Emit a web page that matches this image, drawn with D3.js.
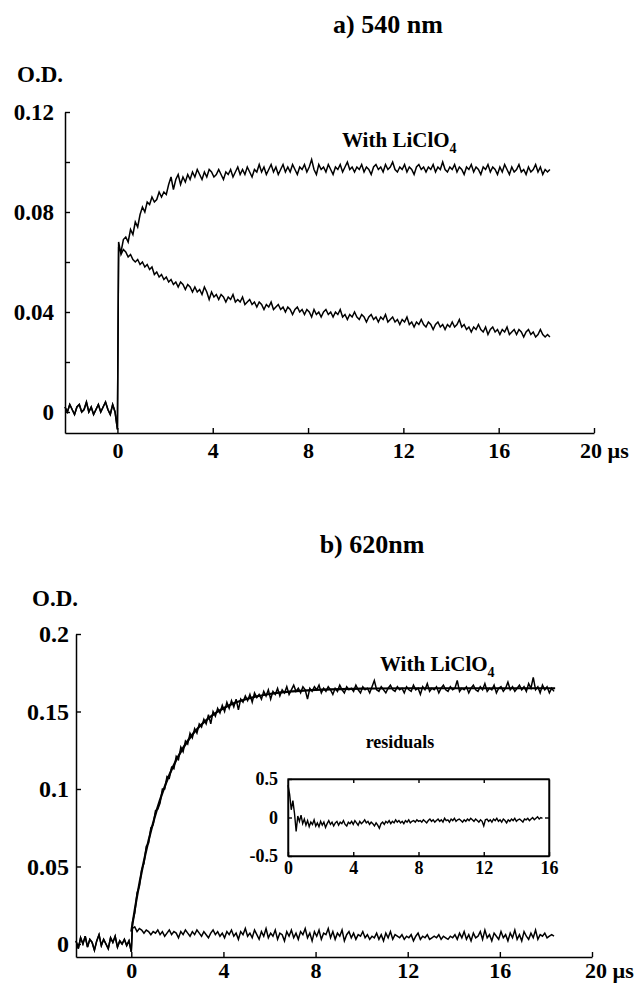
<!DOCTYPE html>
<html><head><meta charset="utf-8">
<script src="https://cdn.jsdelivr.net/npm/d3@7"></script>
<style>
body{margin:0;background:#fff}
text{font-family:"Liberation Serif","Times New Roman",serif;font-weight:bold;fill:#000}
</style>
</head><body>
<svg id="c" width="638" height="985"></svg>
<script>
// ---- sampling (µs) ----
const DT = 0.1;
// ---- panel a) 540 nm, values in milli-O.D. ----
const topBaseStart = -2.2;
const topBaseline = [2,0,3,1,-1,2,3,0,1,4,0,2,-1,1,3,0,2,4,1,-1,3,0,-7];
const topTraceStart = 0.05;
const topWithLi = [66,64,69,70,68,73,71,76,74,79,82,80,84,83,86,84,85,88,86,88,
87,91,94,89,93,95,91,94,92,95,93,96,94,97,95,93,96,94,97,96,
94,95,97,95,93,96,95,97,94,96,98,95,97,95,98,96,94,97,96,99,
96,98,95,97,99,96,98,95,97,99,96,98,96,99,97,95,98,97,99,96,
98,101,97,95,99,97,98,96,99,97,95,98,97,99,96,98,100,97,98,96,
98,97,99,96,98,97,95,98,99,97,98,96,99,97,98,100,97,96,98,97,
99,96,98,97,95,98,99,97,98,96,98,97,99,96,98,97,100,97,96,98,
97,99,96,98,97,95,98,97,99,96,98,97,95,98,97,99,96,98,97,95,
98,96,99,97,95,98,96,97,99,96,97,95,98,96,97,99,96,98,95,97,96,97];
const topWithout = [68,63,65,64,62,63,61,60,61,59,60,58,59,57,58,55,56,54,55,53,
54,52,53,51,52,50,52,51,49,51,50,48,50,48,49,47,50,48,45,48,
46,47,45,47,46,44,46,45,47,44,45,44,46,43,44,45,43,44,42,44,
43,41,43,42,44,41,42,43,41,42,40,42,41,39,41,42,40,41,39,41,
40,38,41,39,40,38,40,41,39,40,38,40,39,41,38,39,37,39,38,40,
38,37,39,38,36,38,39,37,38,36,38,37,39,36,37,38,36,37,35,37,
36,38,35,36,34,36,35,37,35,34,36,35,33,35,36,34,35,33,35,34,
36,34,35,37,34,35,33,34,32,34,33,35,33,32,34,31,33,34,32,33,
31,33,32,34,31,32,33,31,33,32,30,32,33,31,32,30,31,33,31,30,31,30];
const topYTicks = [0, 0.04, 0.08, 0.12];
const topYMinor = [0.02, 0.06, 0.10];
// ---- panel b) 620 nm, values in milli-O.D. ----
const botBaseStart = -2.4;
const botBaseline = [2,-3,4,0,5,-2,3,1,-4,2,6,-1,3,0,-3,4,1,5,-2,2,0,3,-1,2,-5];
const botTraceStart = 0.05;
const botWithLi = [14,20,33,37,48,52,63,65,75,77,86,87,91,100,100,108,107,114,113,121,
119,127,124,131,129,136,133,139,136,142,140,145,142,148,142,150,147,152,149,154,
150,156,152,157,153,158,151,158,156,160,157,161,156,162,159,161,158,163,160,164,
158,163,161,165,160,164,162,166,161,164,167,163,165,162,166,164,158,165,163,166,
164,167,162,165,163,166,164,161,165,163,167,164,162,166,164,165,163,167,164,162,
166,164,165,162,166,170,164,163,166,164,162,165,167,164,163,166,164,165,162,166,
164,163,167,164,165,161,166,164,168,163,165,164,166,162,165,167,164,163,166,164,
165,170,163,165,164,166,162,165,167,164,163,166,164,168,163,165,164,167,162,165,
166,163,165,169,164,166,163,165,167,164,166,163,168,165,172,164,166,162,167,164,166,162,165,163];
const botWithout = [10,11,8,10,9,7,9,8,6,8,7,9,6,8,5,7,9,6,8,7,
4,8,6,9,7,5,8,6,9,7,5,8,6,4,7,9,6,8,5,7,
4,8,6,9,5,7,3,8,6,10,5,7,4,9,6,3,8,5,10,4,
7,5,9,3,7,6,2,8,5,9,4,7,3,8,6,10,4,7,2,8,
5,9,3,7,6,10,4,8,3,7,5,9,2,6,8,4,7,3,6,5,
8,4,6,3,5,4,7,3,6,2,7,4,8,3,6,5,4,6,3,5,
4,6,2,5,7,3,5,4,6,3,4,5,4,6,3,5,4,3,5,4,
6,3,7,4,8,3,6,2,7,4,5,8,3,9,4,6,2,7,5,3,
8,4,6,2,7,4,9,3,6,2,8,5,3,7,4,9,3,6,5,7,4,5,6,5];
const botFitT = [0,0.25,0.5,0.75,1,1.25,1.5,1.75,2,2.5,3,3.5,4,4.5,5,6,7,8,10,12,14,16,18.4];
const botFit = [8,30.7,50.1,66.7,81,93.1,103.5,112.4,120,132.1,140.9,147.4,152.1,155.6,158.1,161.3,163,164,164.7,165,165,165,165];
const botYTicks = [0, 0.05, 0.1, 0.15, 0.2];
const xTicks = [0, 4, 8, 12, 16, 20];
// ---- inset residuals ----
const residStart = 0;
const residuals = [0.42,0.30,0.10,0.22,0.05,-0.18,0.02,-0.05,0.03,-0.08,
-0.02,-0.10,-0.04,-0.12,-0.06,-0.09,-0.03,-0.11,-0.07,-0.12,
-0.05,-0.10,-0.06,-0.13,-0.08,-0.04,-0.09,-0.06,-0.11,-0.07,
-0.05,-0.10,-0.06,-0.08,-0.04,-0.09,-0.11,-0.06,-0.08,-0.05,
-0.09,-0.04,-0.07,-0.10,-0.05,-0.08,-0.06,-0.03,-0.07,-0.05,
-0.09,-0.06,-0.08,-0.11,-0.07,-0.10,-0.14,-0.08,-0.06,-0.09,
-0.05,-0.07,-0.04,-0.08,-0.05,-0.07,-0.03,-0.06,-0.04,-0.07,
-0.05,-0.08,-0.04,-0.06,-0.03,-0.07,-0.05,-0.04,-0.06,-0.03,
-0.05,-0.04,-0.06,-0.03,-0.05,-0.07,-0.04,-0.02,-0.05,-0.03,
-0.06,-0.04,-0.02,-0.05,-0.03,-0.06,-0.01,-0.04,-0.03,-0.06,
-0.02,-0.04,-0.01,-0.05,-0.03,-0.02,-0.04,-0.06,-0.03,-0.05,
-0.02,-0.04,-0.01,-0.03,-0.05,-0.02,-0.04,-0.06,-0.03,-0.05,
-0.11,-0.03,-0.02,-0.05,-0.03,-0.06,-0.02,-0.04,-0.01,-0.05,
-0.03,-0.06,-0.02,-0.04,-0.07,-0.03,-0.05,-0.02,-0.04,-0.01,
-0.05,-0.03,-0.02,-0.04,-0.06,-0.02,-0.03,-0.01,-0.04,-0.02,
0.00,-0.03,-0.01,0.01,-0.02,0.00,-0.01];
const insetXTicks = [0, 4, 8, 12, 16];
const insetYTicks = [-0.5, 0, 0.5];

// ---- helpers ----
const svg = d3.select("#c");
const toPts = (start, arr) => arr.map((v, i) => ({t: start + i * DT, v: v / 1000}));
function styleAxis(g, size){
  g.attr("font-family", null).attr("font-size", null);
  g.selectAll("text").style("font-size", size + "px");
  g.selectAll("path.domain").attr("stroke-width", 1.5);
  g.selectAll(".tick line").attr("stroke-width", 1.4);
}

// ================= Panel a =================
const xa = d3.scaleLinear().domain([-2.2, 20]).range([65, 594]);
const ya = d3.scaleLinear().domain([-0.0084, 0.12]).range([433, 112]);
const lineA = d3.line().x(d => xa(d.t)).y(d => ya(d.v));
const baseA = toPts(topBaseStart, topBaseline);
svg.append("path").datum(baseA.concat(toPts(topTraceStart, topWithLi)))
  .attr("d", lineA).attr("fill", "none").attr("stroke", "#000").attr("stroke-width", 1.5);
svg.append("path").datum(baseA.concat(toPts(topTraceStart, topWithout)))
  .attr("d", lineA).attr("fill", "none").attr("stroke", "#000").attr("stroke-width", 1.5);

const gya = svg.append("g").attr("transform", "translate(65,0)")
  .call(d3.axisLeft(ya).tickValues(topYTicks).tickSize(-5).tickSizeOuter(0).tickPadding(11)
    .tickFormat(d => d === 0 ? "0" : d.toFixed(2)));
styleAxis(gya, 23);
svg.append("g").attr("transform", "translate(65,0)")
  .call(d3.axisLeft(ya).tickValues(topYMinor).tickSize(-5).tickFormat(""))
  .call(g => g.select(".domain").remove()).call(g => styleAxis(g, 23));
const gxa = svg.append("g").attr("transform", "translate(0,433)")
  .call(d3.axisBottom(xa).tickValues(xTicks).tickSize(-5).tickSizeOuter(0).tickPadding(9)
    .tickFormat(d => d === 20 ? "" : d));
styleAxis(gxa, 22);
svg.append("text").attr("x", 580).attr("y", 458).style("font-size", "22px").text("20 µs");

svg.append("text").attr("x", 388).attr("y", 33).attr("text-anchor", "middle").style("font-size", "26px").text("a) 540 nm");
svg.append("text").attr("x", 17).attr("y", 82).style("font-size", "23px").text("O.D.");
const la = svg.append("text").attr("x", 342).attr("y", 147).style("font-size", "21px").text("With LiClO");
la.append("tspan").attr("dy", 6).style("font-size", "14px").text("4");

// ================= Panel b =================
const xb = d3.scaleLinear().domain([-2.4, 20]).range([76, 592]);
const yb = d3.scaleLinear().domain([-0.0084, 0.2]).range([957, 634]);
const lineB = d3.line().x(d => xb(d.t)).y(d => yb(d.v));
const baseB = toPts(botBaseStart, botBaseline);
svg.append("path").datum(baseB.concat(toPts(botTraceStart, botWithout)))
  .attr("d", lineB).attr("fill", "none").attr("stroke", "#000").attr("stroke-width", 1.5);
svg.append("path").datum(baseB.concat(toPts(botTraceStart, botWithLi)))
  .attr("d", lineB).attr("fill", "none").attr("stroke", "#000").attr("stroke-width", 1.5);
svg.append("path").datum(botFitT.map((t, i) => ({t, v: botFit[i] / 1000})))
  .attr("d", lineB.curve(d3.curveMonotoneX)).attr("fill", "none").attr("stroke", "#000").attr("stroke-width", 2.2);

const gyb = svg.append("g").attr("transform", "translate(76,0)")
  .call(d3.axisLeft(yb).tickValues(botYTicks).tickSize(-5).tickSizeOuter(0).tickPadding(7)
    .tickFormat(d => String(d)));
styleAxis(gyb, 24);
const gxb = svg.append("g").attr("transform", "translate(0,957)")
  .call(d3.axisBottom(xb).tickValues(xTicks).tickSize(-5).tickSizeOuter(0).tickPadding(5)
    .tickFormat(d => d === 20 ? "" : d));
styleAxis(gxb, 22);
svg.append("text").attr("x", 585).attr("y", 978).style("font-size", "22px").text("20 µs");

svg.append("text").attr("x", 372).attr("y", 553).attr("text-anchor", "middle").style("font-size", "26px").text("b) 620nm");
svg.append("text").attr("x", 32).attr("y", 606).style("font-size", "23px").text("O.D.");
const lb = svg.append("text").attr("x", 380).attr("y", 671).style("font-size", "21px").text("With LiClO");
lb.append("tspan").attr("dy", 6).style("font-size", "14px").text("4");

// ================= Inset =================
const xi = d3.scaleLinear().domain([0, 16]).range([288, 549]);
const yi = d3.scaleLinear().domain([-0.5, 0.5]).range([856, 779]);
svg.append("text").attr("x", 400).attr("y", 748).attr("text-anchor", "middle").style("font-size", "18px").text("residuals");
svg.append("rect").attr("x", xi(0)).attr("y", yi(0.5)).attr("width", xi(16) - xi(0)).attr("height", yi(-0.5) - yi(0.5))
  .attr("fill", "none").attr("stroke", "#000").attr("stroke-width", 1.3);
const gyi = svg.append("g").attr("transform", `translate(${xi(0)},0)`)
  .call(d3.axisLeft(yi).tickValues(insetYTicks).tickSize(-4).tickSizeOuter(0).tickPadding(10)
    .tickFormat(d => d === 0 ? "0" : (d < 0 ? "-" : "") + Math.abs(d)));
styleAxis(gyi, 18);
svg.append("g").attr("transform", `translate(${xi(16)},0)`)
  .call(d3.axisRight(yi).tickValues([0]).tickSize(-4).tickSizeOuter(0).tickFormat(""))
  .call(g => styleAxis(g, 18));
const gxi = svg.append("g").attr("transform", `translate(0,${yi(-0.5)})`)
  .call(d3.axisBottom(xi).tickValues(insetXTicks).tickSize(-4).tickSizeOuter(0).tickPadding(5));
styleAxis(gxi, 18);
svg.append("g").attr("transform", `translate(0,${yi(0.5)})`)
  .call(d3.axisTop(xi).tickValues(insetXTicks.slice(1, 4)).tickSize(-4).tickSizeOuter(0).tickFormat(""))
  .call(g => styleAxis(g, 18));
svg.append("path").datum(residuals.map((v, i) => ({t: residStart + i * DT, v})))
  .attr("d", d3.line().x(d => xi(d.t)).y(d => yi(d.v)))
  .attr("fill", "none").attr("stroke", "#000").attr("stroke-width", 1.4);
</script>
</body></html>
